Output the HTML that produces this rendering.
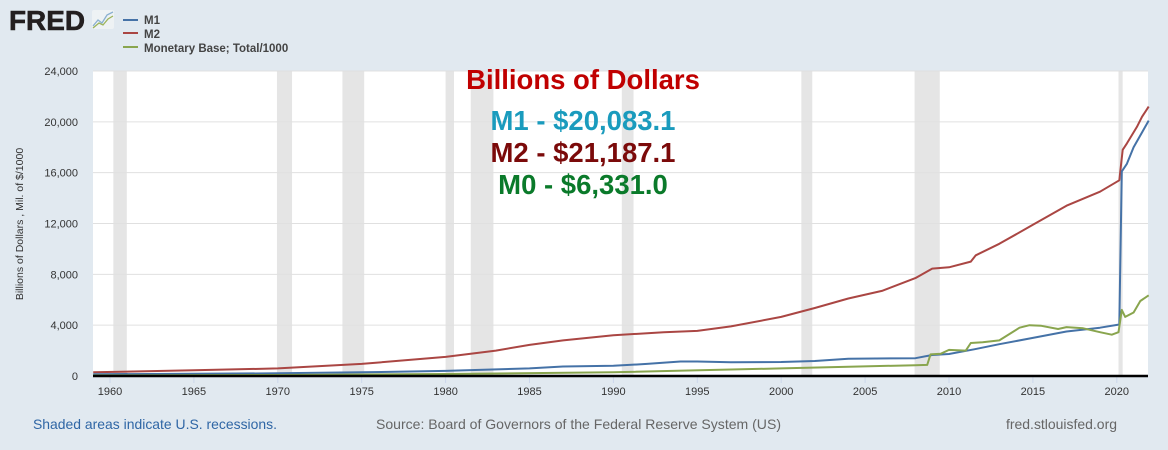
<!DOCTYPE html>
<html><head><meta charset="utf-8"><style>
body{margin:0;width:1168px;height:450px;background:#e1e9f0;font-family:"Liberation Sans",sans-serif;overflow:hidden}
svg{display:block}
</style></head><body>
<svg id="s" width="1168" height="450" xmlns="http://www.w3.org/2000/svg" font-family="Liberation Sans, sans-serif">
<rect width="1168" height="450" fill="#e1e9f0"/>
<text x="9" y="30" font-size="28" font-weight="bold" fill="#231f20" stroke="#231f20" stroke-width="0.6" textLength="76" lengthAdjust="spacingAndGlyphs">FRED</text>
<rect x="92" y="10" width="22" height="19" fill="#eef2f4" rx="2"/>
<polyline points="93,26 98,20 102,23 107,15 113,12" fill="none" stroke="#8ab0d0" stroke-width="1.3"/>
<polyline points="93,28 99,23 103,25 108,19 113,16" fill="none" stroke="#9cb45a" stroke-width="1.3"/>
<line x1="123" y1="20" x2="138" y2="20" stroke="#4572a7" stroke-width="2"/>
<line x1="123" y1="33" x2="138" y2="33" stroke="#aa4643" stroke-width="2"/>
<line x1="123" y1="47" x2="138" y2="47" stroke="#89a54e" stroke-width="2"/>
<g font-size="11.5" font-weight="bold" fill="#444"><text x="144" y="24">M1</text><text x="144" y="38">M2</text><text x="144" y="52">Monetary Base; Total/1000</text></g>
<rect x="93" y="71" width="1055" height="305" fill="#fff"/>
<g id="rec" fill="#e5e5e5"></g>
<g id="grid" stroke="#e0e0e0" stroke-width="1"></g>
<g id="ylab" font-size="11" fill="#333" text-anchor="end"></g>
<g id="xlab" font-size="11" fill="#333" text-anchor="middle"></g>
<text transform="translate(23,224) rotate(-90)" font-size="10.5" fill="#333" text-anchor="middle">Billions of Dollars , Mil. of $/1000</text>
<g id="ser" fill="none" stroke-width="2" stroke-linejoin="round"></g>
<line x1="93" y1="376" x2="1148" y2="376" stroke="#000" stroke-width="2.5"/>
<g font-weight="bold" text-anchor="middle" font-size="27.5">
<text x="583" y="89" fill="#c00000">Billions of Dollars</text>
<text x="583" y="130" fill="#1a9bbd">M1 - $20,083.1</text>
<text x="583" y="162" fill="#7b0a0a">M2 - $21,187.1</text>
<text x="583" y="194" fill="#0a7a2a">M0 - $6,331.0</text>
</g>
<g font-size="14">
<text x="33" y="429" fill="#2f66a5" textLength="244" lengthAdjust="spacingAndGlyphs">Shaded areas indicate U.S. recessions.</text>
<text x="376" y="429" fill="#666" textLength="405" lengthAdjust="spacingAndGlyphs">Source: Board of Governors of the Federal Reserve System (US)</text>
<text x="1006" y="429" fill="#666" textLength="111" lengthAdjust="spacingAndGlyphs">fred.stlouisfed.org</text>
</g>
</svg>
<script>
const NS="http://www.w3.org/2000/svg";
const X=y=>110+16.78*(y-1960), Y=v=>376-v*0.012708;
function el(p,t,a){const e=document.createElementNS(NS,t);for(const k in a)e.setAttribute(k,a[k]);document.getElementById(p).appendChild(e);return e;}
[[1960.2,1961.0],[1969.95,1970.85],[1973.85,1975.15],[1980.0,1980.5],[1981.5,1982.85],[1990.5,1991.2],[2001.2,2001.85],[2007.95,2009.45],[2020.1,2020.35]].forEach(r=>el("rec","rect",{x:X(r[0]),y:71,width:X(r[1])-X(r[0]),height:305}));
for(let v=4000;v<=24000;v+=4000)el("grid","line",{x1:93,x2:1148,y1:Y(v),y2:Y(v)});
for(let v=0;v<=24000;v+=4000){const t=el("ylab","text",{x:78,y:Y(v)+4});t.textContent=v.toLocaleString("en-US");}
for(let y=1960;y<=2020;y+=5){el("xlab","line",{x1:X(y),x2:X(y),y1:377,y2:383,stroke:"#ccd6eb"});const t=el("xlab","text",{x:X(y),y:395});t.textContent=y;}
const m2=[[1959,290],[1965,450],[1970,600],[1975,950],[1980,1500],[1983,2000],[1985,2450],[1987,2800],[1990,3200],[1993,3450],[1995,3550],[1997,3900],[2000,4650],[2002,5350],[2004,6100],[2006,6700],[2008,7700],[2009,8450],[2010,8550],[2011.3,9000],[2011.6,9500],[2013,10400],[2015,11900],[2017,13400],[2019,14500],[2020.15,15400],[2020.35,17800],[2020.6,18300],[2021.2,19600],[2021.5,20400],[2021.9,21200]];
const m1=[[1959,140],[1965,170],[1970,210],[1975,290],[1980,400],[1985,600],[1987,750],[1990,800],[1992,950],[1994,1140],[1995,1140],[1997,1080],[2000,1100],[2002,1180],[2004,1350],[2008,1400],[2009,1650],[2010,1730],[2011.5,2100],[2013,2500],[2015,3000],[2017,3500],[2019,3800],[2020.15,4050],[2020.3,16100],[2020.6,16700],[2021,18000],[2021.9,20100]];
const m0=[[1959,50],[1970,80],[1980,160],[1990,300],[2000,600],[2008,850],[2008.7,870],[2008.9,1700],[2009.5,1750],[2010,2050],[2011,2000],[2011.3,2600],[2012,2650],[2013,2800],[2014.2,3800],[2014.8,4000],[2015.5,3950],[2016.5,3700],[2017,3850],[2018,3750],[2019,3450],[2019.7,3250],[2020.1,3450],[2020.3,5200],[2020.5,4650],[2021,5000],[2021.4,5900],[2021.9,6350]];
[[m2,"#aa4643"],[m1,"#4572a7"],[m0,"#89a54e"]].forEach(([d,c])=>el("ser","polyline",{points:d.map(p=>X(p[0]).toFixed(1)+","+Y(p[1]).toFixed(1)).join(" "),stroke:c}));
</script>
</body></html>
